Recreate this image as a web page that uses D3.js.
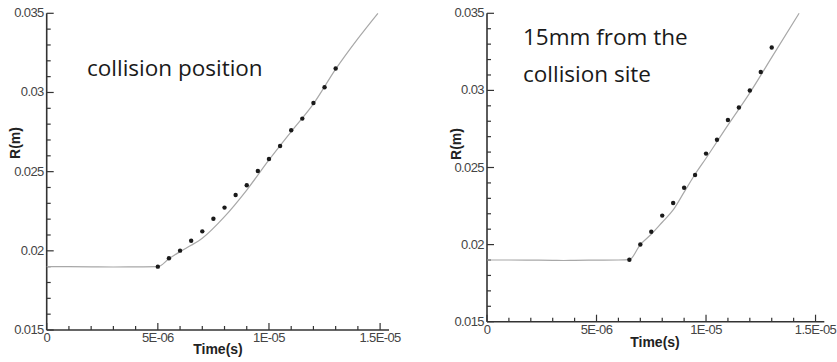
<!DOCTYPE html>
<html>
<head>
<meta charset="utf-8">
<script src="https://cdn.jsdelivr.net/npm/d3@7"></script>
<style>
  body { margin: 0; background: #fff; }
  svg { display: block; }
</style>
</head>
<body>
<div id="chart"></div>
<script>
// ---- data (time in s, radius in m) ----
const xTicks = [0, 5e-6, 1e-5, 1.5e-5];
const xTickLabels = ['0', '5E-06', '1E-05', '1.5E-05'];
const yTicks = [0.015, 0.02, 0.025, 0.03, 0.035];
const yTickLabels = ['0.015', '0.02', '0.025', '0.03', '0.035'];

// left panel: collision position
const leftLineTime = [0, 1e-6, 2e-6, 3e-6, 4e-6, 5e-6, 5.5e-6, 6e-6, 6.5e-6, 7e-6, 8e-6, 9e-6, 1e-5, 1.1e-5, 1.2e-5, 1.3e-5, 1.4e-5, 1.49e-5];
const leftLineR = [0.019, 0.019, 0.01899, 0.01898, 0.01899, 0.0190, 0.0195, 0.01995, 0.02035, 0.0208, 0.02216, 0.02384, 0.02574, 0.02753, 0.02928, 0.03147, 0.0334, 0.035];
const leftPtsTime = [5e-6, 5.5e-6, 6e-6, 6.5e-6, 7e-6, 7.5e-6, 8e-6, 8.5e-6, 9e-6, 9.5e-6, 1e-5, 1.05e-5, 1.1e-5, 1.15e-5, 1.2e-5, 1.25e-5, 1.3e-5];
const leftPtsR = [0.0190, 0.01953, 0.02001, 0.02064, 0.02123, 0.02203, 0.02273, 0.02353, 0.02414, 0.02504, 0.0258, 0.02662, 0.02761, 0.02835, 0.02934, 0.03033, 0.03151];

// right panel: 15mm from the collision site
const rightLineTime = [0, 1e-6, 2e-6, 3e-6, 3.5e-6, 4e-6, 5e-6, 6e-6, 6.5e-6, 7e-6, 7.5e-6, 8e-6, 8.5e-6, 9e-6, 9.5e-6, 1e-5, 1.1e-5, 1.2e-5, 1.3e-5, 1.425e-5];
const rightLineR = [0.019, 0.019, 0.01899, 0.01898, 0.01897, 0.01898, 0.01899, 0.019, 0.01902, 0.02, 0.02067, 0.02145, 0.02225, 0.0234, 0.02456, 0.0256, 0.02775, 0.02984, 0.03214, 0.035];
const rightPtsTime = [6.5e-6, 7e-6, 7.5e-6, 8e-6, 8.5e-6, 9e-6, 9.5e-6, 1e-5, 1.05e-5, 1.1e-5, 1.15e-5, 1.2e-5, 1.25e-5, 1.3e-5];
const rightPtsR = [0.01902, 0.02001, 0.02083, 0.02188, 0.0227, 0.02369, 0.02451, 0.0259, 0.0268, 0.02808, 0.02889, 0.02999, 0.03119, 0.03278];

const width = 837, height = 362;

const svg = d3.select('#chart')
  .append('svg')
  .attr('width', width)
  .attr('height', height)
  .style('font-family', '"Liberation Sans", Arial, sans-serif');

svg.append('rect').attr('width', width).attr('height', height).attr('fill', '#fff');

function drawPanel(p) {
  const x = d3.scaleLinear().domain([0, 1.54e-5]).range([p.left, p.right]);
  const y = d3.scaleLinear().domain([0.015, 0.035]).range([p.bottom, p.top]);
  const g = svg.append('g');

  // minor ticks (inside)
  const xMinor = d3.range(0, 16).map(i => i * 1e-6);
  const yMinor = d3.range(0, 21).map(i => 0.015 + i * 0.001);

  g.selectAll('.xminor')
    .data(xMinor)
    .enter()
    .append('line')
    .attr('x1', d => x(d)).attr('x2', d => x(d))
    .attr('y1', y(0.015)).attr('y2', d => y(0.015) - (i5(d, 5e-6) ? 7 : 4))
    .attr('stroke', '#333').attr('stroke-width', 1.2);

  g.selectAll('.yminor')
    .data(yMinor)
    .enter()
    .append('line')
    .attr('y1', d => y(d)).attr('y2', d => y(d))
    .attr('x1', x(0)).attr('x2', d => x(0) + (i5(d - 0.015, 0.005) ? 7 : 4))
    .attr('stroke', '#333').attr('stroke-width', 1.2);

  // axis lines
  g.append('line')
    .attr('x1', x(0)).attr('x2', x(1.54e-5))
    .attr('y1', y(0.015)).attr('y2', y(0.015))
    .attr('stroke', '#333').attr('stroke-width', 1.6);
  g.append('line')
    .attr('x1', x(0)).attr('x2', x(0))
    .attr('y1', y(0.015)).attr('y2', y(0.035))
    .attr('stroke', '#333').attr('stroke-width', 1.6);

  // tick labels
  g.selectAll('.xlab')
    .data(xTicks)
    .enter()
    .append('text')
    .attr('x', d => x(d))
    .attr('y', y(0.015) + 12)
    .attr('text-anchor', 'middle')
    .attr('font-size', 13)
    .attr('letter-spacing', -0.6)
    .attr('fill', '#444')
    .text((d, i) => xTickLabels[i]);

  g.selectAll('.ylab')
    .data(yTicks)
    .enter()
    .append('text')
    .attr('x', x(0) - 3)
    .attr('y', d => y(d) + 4)
    .attr('text-anchor', 'end')
    .attr('font-size', 13)
    .attr('letter-spacing', -0.6)
    .attr('fill', '#444')
    .text((d, i) => yTickLabels[i]);

  // axis titles
  g.append('text')
    .attr('x', p.titleX)
    .attr('y', p.titleY)
    .attr('text-anchor', 'middle')
    .attr('font-size', 14)
    .attr('font-weight', 'bold')
    .attr('fill', '#222')
    .text('Time(s)');

  g.append('text')
    .attr('transform', 'translate(' + p.rX + ',' + p.rY + ') rotate(-90)')
    .attr('text-anchor', 'middle')
    .attr('font-size', 14)
    .attr('font-weight', 'bold')
    .attr('fill', '#222')
    .text('R(m)');

  // simulation curve
  const lineData = p.lineT.map((t, i) => [t, p.lineR[i]]);
  g.append('path')
    .datum(lineData)
    .attr('fill', 'none')
    .attr('stroke', '#a8a8a8')
    .attr('stroke-width', 1.2)
    .attr('d', d3.line()
      .curve(d3.curveMonotoneX)
      .x(d => x(d[0]))
      .y(d => y(d[1])));

  // experiment points
  g.selectAll('.pt')
    .data(p.ptT.map((t, i) => [t, p.ptR[i]]))
    .enter()
    .append('circle')
    .attr('cx', d => x(d[0]))
    .attr('cy', d => y(d[1]))
    .attr('r', 2.2)
    .attr('fill', '#1a1a1a');

  // annotation
  p.note.forEach((s, i) => {
    g.append('text')
      .attr('x', p.noteX)
      .attr('y', p.noteY + i * 37.5)
      .attr('font-family', '"Open Sans", "Noto Sans", sans-serif')
      .attr('font-size', 22.5)
      .attr('fill', '#1a1a1a')
      .text(s);
  });
}

// true when v sits on a multiple of step
function i5(v, step) {
  const r = v / step;
  return Math.abs(r - Math.round(r)) < 1e-6;
}

drawPanel({
  left: 46.7, right: 389, top: 13.3, bottom: 330,
  titleX: 218, titleY: 354, rX: 20, rY: 143,
  lineT: leftLineTime, lineR: leftLineR,
  ptT: leftPtsTime, ptR: leftPtsR,
  note: ['collision position'], noteX: 87, noteY: 76
});

drawPanel({
  left: 487, right: 824.3, top: 13.3, bottom: 321.7,
  titleX: 655, titleY: 347, rX: 461, rY: 144,
  lineT: rightLineTime, lineR: rightLineR,
  ptT: rightPtsTime, ptR: rightPtsR,
  note: ['15mm from the', 'collision site'], noteX: 523, noteY: 44.5
});
</script>
</body>
</html>
